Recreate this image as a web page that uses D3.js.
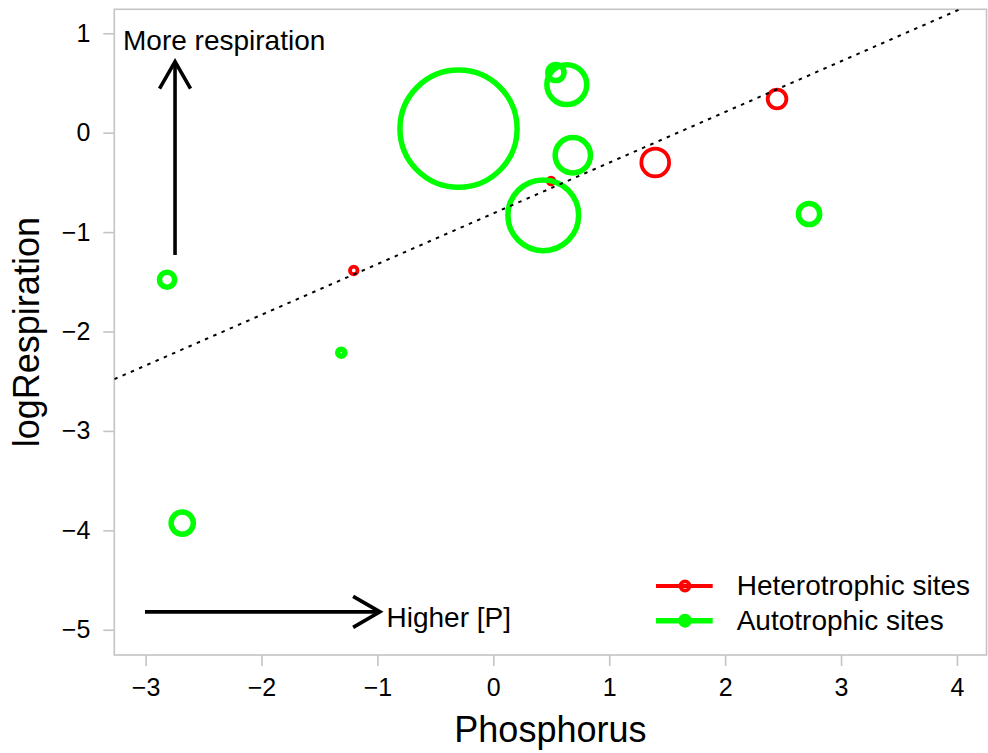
<!DOCTYPE html>
<html>
<head>
<meta charset="utf-8">
<script src="https://cdn.jsdelivr.net/npm/d3@7"></script>
<style>
  html, body { margin: 0; padding: 0; background: #fff; }
  svg { display: block; font-family: "Liberation Sans", Arial, sans-serif; }
</style>
</head>
<body>
<svg id="chart" width="988" height="753"></svg>
<script>
// Site measurements: phosphorus (x), log respiration (y), symbol size (cex-like)
const heteroP    = [-1.204, 0.498, 1.397, 2.448];
const heteroResp = [-1.386, -0.486, -0.300, 0.339];
const heteroSize = [0.75, 0.65, 2.75, 1.85];

const autoP    = [-0.300, 0.540, 0.634, 0.686, 0.431, 2.724, -2.815, -1.312, -2.684];
const autoResp = [0.040, 0.605, 0.483, -0.227, -0.831, -0.818, -1.479, -2.213, -3.927];
const autoSize = [11.6, 1.6, 3.95, 3.5, 7.0, 2.1, 1.5, 0.7, 2.2];

// Fitted relationship across all sites
const fitIntercept = -0.812;
const fitSlope = 0.51;

const xTicks = [-3, -2, -1, 0, 1, 2, 3, 4];
const yTicks = [1, 0, -1, -2, -3, -4, -5];

const legendLabels = ["Heterotrophic sites", "Autotrophic sites"];
const seriesColors = ["#ff0000", "#00ff00"];

const svg = d3.select("#chart");
const plot = { left: 114.3, right: 986.5, top: 9.3, bottom: 655 };

const x = d3.scaleLinear().domain([-3.27, 4.255]).range([plot.left, plot.right]);
const y = d3.scaleLinear().domain([-5.254, 1.241]).range([plot.bottom, plot.top]);
const r = d3.scaleLinear().domain([0, 1]).range([0, 5.05]);

const axisGrey = "#c4c4c4";

svg.append("defs").append("clipPath").attr("id", "plotClip")
  .append("rect")
  .attr("x", plot.left).attr("y", plot.top)
  .attr("width", plot.right - plot.left).attr("height", plot.bottom - plot.top);

// Axes
const xAxis = svg.append("g")
  .attr("transform", `translate(0,${plot.bottom})`)
  .call(d3.axisBottom(x).tickValues(xTicks).tickSize(11).tickPadding(12)
    .tickFormat(d => d < 0 ? "\u2212" + Math.abs(d) : d));
xAxis.select(".domain").remove();
xAxis.selectAll("line").attr("stroke", axisGrey).attr("stroke-width", 1.6);
xAxis.selectAll("text").attr("font-size", 25).attr("fill", "#000")
  .attr("font-family", "Liberation Sans, Arial, sans-serif");

const yAxis = svg.append("g")
  .attr("transform", `translate(${plot.left},0)`)
  .call(d3.axisLeft(y).tickValues(yTicks).tickSize(11).tickPadding(13)
    .tickFormat(d => d < 0 ? "\u2212" + Math.abs(d) : d));
yAxis.select(".domain").remove();
yAxis.selectAll("line").attr("stroke", axisGrey).attr("stroke-width", 1.6);
yAxis.selectAll("text").attr("font-size", 25).attr("fill", "#000")
  .attr("font-family", "Liberation Sans, Arial, sans-serif");

// Plot frame
svg.append("rect")
  .attr("x", plot.left).attr("y", plot.top)
  .attr("width", plot.right - plot.left).attr("height", plot.bottom - plot.top)
  .attr("fill", "none").attr("stroke", axisGrey).attr("stroke-width", 1.6);

// Axis titles
svg.append("text")
  .attr("x", (plot.left + plot.right) / 2).attr("y", 741.7)
  .attr("text-anchor", "middle").attr("font-size", 36).attr("fill", "#000")
  .text("Phosphorus");

svg.append("text")
  .attr("transform", `translate(39,${(plot.top + plot.bottom) / 2}) rotate(-90)`)
  .attr("text-anchor", "middle").attr("font-size", 36).attr("fill", "#000")
  .text("logRespiration");

const pts = svg.append("g").attr("clip-path", "url(#plotClip)");

// Heterotrophic sites
pts.selectAll("circle.hetero")
  .data(d3.range(heteroP.length))
  .join("circle")
  .attr("class", "hetero")
  .attr("cx", i => x(heteroP[i]))
  .attr("cy", i => y(heteroResp[i]))
  .attr("r", i => r(heteroSize[i]))
  .attr("fill", "none").attr("stroke", seriesColors[0]).attr("stroke-width", 3.8);

// Autotrophic sites
pts.selectAll("circle.auto")
  .data(d3.range(autoP.length))
  .join("circle")
  .attr("class", "auto")
  .attr("cx", i => x(autoP[i]))
  .attr("cy", i => y(autoResp[i]))
  .attr("r", i => r(autoSize[i]))
  .attr("fill", "none").attr("stroke", seriesColors[1]).attr("stroke-width", 5.5);

// Regression line
const xd = x.domain();
pts.append("line")
  .attr("x1", x(xd[0])).attr("y1", y(fitIntercept + fitSlope * xd[0]))
  .attr("x2", x(xd[1])).attr("y2", y(fitIntercept + fitSlope * xd[1]))
  .attr("stroke", "#000").attr("stroke-width", 2)
  .attr("stroke-dasharray", "3.5,5.5");

// Direction arrows
function arrow(x0, y0, x1, y1) {
  const ax0 = x(x0), ay0 = y(y0), ax1 = x(x1), ay1 = y(y1);
  const ang = Math.atan2(ay1 - ay0, ax1 - ax0);
  const len = 31, spread = Math.PI / 6;
  const g = svg.append("g").attr("stroke", "#000").attr("stroke-width", 3.6)
    .attr("fill", "none").attr("stroke-linecap", "butt");
  g.append("line").attr("x1", ax0).attr("y1", ay0).attr("x2", ax1).attr("y2", ay1);
  g.append("path").attr("d",
    `M${ax1 - len * Math.cos(ang - spread)},${ay1 - len * Math.sin(ang - spread)}` +
    `L${ax1},${ay1}` +
    `L${ax1 - len * Math.cos(ang + spread)},${ay1 - len * Math.sin(ang + spread)}`);
}
arrow(-2.746, -1.23, -2.746, 0.714);
arrow(-3.005, -4.82, -0.978, -4.82);

svg.append("text")
  .attr("x", 123).attr("y", 50)
  .attr("font-size", 28).attr("fill", "#000")
  .text("More respiration");

svg.append("text")
  .attr("x", 386.5).attr("y", 626.7)
  .attr("font-size", 28).attr("fill", "#000")
  .text("Higher [P]");

// Legend
const legend = svg.append("g");
const legendRows = [586, 620.7];
const legendLine = [3.8, 5.5];
const legendRadius = [4.6, 4.2];
legendLabels.forEach((lab, i) => {
  const gy = legendRows[i];
  legend.append("line")
    .attr("x1", 656).attr("x2", 712.7).attr("y1", gy).attr("y2", gy)
    .attr("stroke", seriesColors[i]).attr("stroke-width", legendLine[i]);
  legend.append("circle")
    .attr("cx", 685).attr("cy", gy).attr("r", legendRadius[i])
    .attr("fill", "none").attr("stroke", seriesColors[i]).attr("stroke-width", legendLine[i]);
  legend.append("text")
    .attr("x", 736.7).attr("y", gy + 9.3)
    .attr("font-size", 28).attr("fill", "#000")
    .text(lab);
});
</script>
</body>
</html>
